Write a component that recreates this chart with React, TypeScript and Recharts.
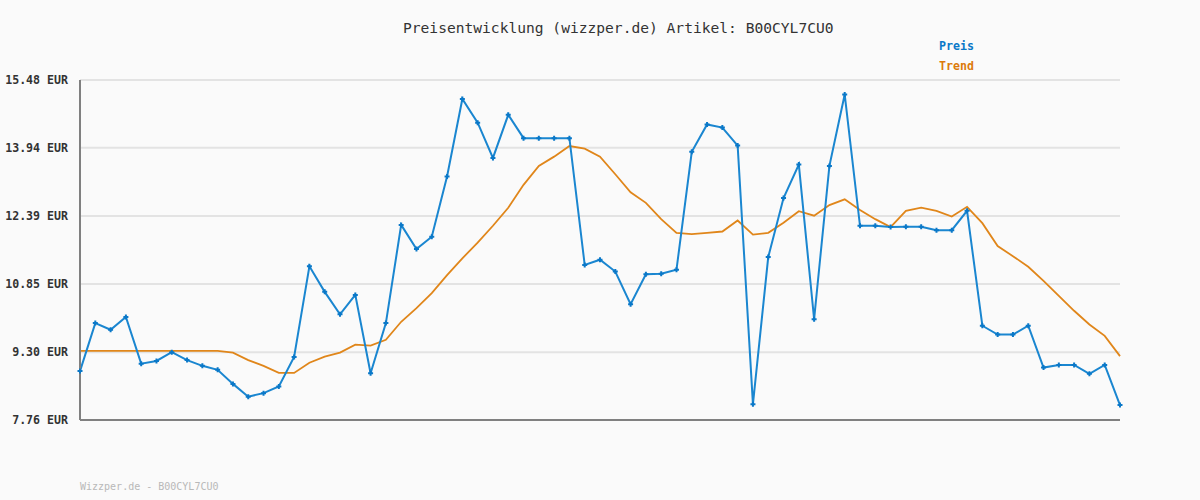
import { CartesianGrid, Line, LineChart, XAxis, YAxis } from "recharts";

const preis = [
  8.87, 9.96, 9.81, 10.1, 9.04, 9.1, 9.3, 9.12, 8.99, 8.9,
  8.58, 8.29, 8.37, 8.52, 9.19, 11.25, 10.67, 10.16, 10.6, 8.82,
  9.96, 12.19, 11.64, 11.92, 13.29, 15.05, 14.51, 13.71, 14.69, 14.16,
  14.16, 14.16, 14.16, 11.28, 11.4, 11.13, 10.39, 11.07, 11.08, 11.17,
  13.85, 14.47, 14.4, 13.99, 8.12, 11.46, 12.8, 13.56, 10.05, 13.53,
  15.15, 12.17, 12.17, 12.14, 12.15, 12.15, 12.07, 12.07, 12.51, 9.9,
  9.7, 9.7, 9.9, 8.95, 9.01, 9.01, 8.81, 9.01, 8.1,
];

const trend = [
  9.33, 9.33, 9.33, 9.33, 9.33, 9.33, 9.33, 9.33, 9.33, 9.33,
  9.29, 9.12, 8.99, 8.83, 8.83, 9.06, 9.2, 9.29, 9.47, 9.45,
  9.58, 9.99, 10.3, 10.64, 11.05, 11.43, 11.79, 12.17, 12.58, 13.1,
  13.53, 13.74, 13.98, 13.92, 13.74, 13.34, 12.93, 12.69, 12.32, 12.01,
  11.98, 12.01, 12.04, 12.29, 11.97, 12.01, 12.24, 12.5, 12.4, 12.64,
  12.77, 12.53, 12.32, 12.14, 12.51, 12.58, 12.51, 12.38, 12.6, 12.23,
  11.71, 11.48, 11.24, 10.92, 10.58, 10.24, 9.93, 9.67, 9.21,
];

const yTicks = [7.76, 9.3, 10.85, 12.39, 13.94, 15.48];

const data = preis.map((p, i) => ({ i, preis: p, trend: trend[i] }));

const mono = "'DejaVu Sans Mono', 'Liberation Mono', monospace";

function Cross(props: any) {
  const { cx, cy } = props;
  if (cx == null || cy == null) return null;
  return (
    <path
      d={`M${cx - 2.5},${cy}L${cx + 2.5},${cy}M${cx},${cy - 2.5}L${cx},${cy + 2.5}`}
      stroke="#0a78c8"
      strokeWidth={2}
    />
  );
}

export default function App() {
  return (
    <div
      style={{
        position: "absolute",
        left: 0,
        top: 0,
        width: 1200,
        height: 500,
        background: "#fafafa",
        fontFamily: mono,
      }}
    >
      <div style={{ position: "absolute", left: 403, top: 20.6, fontSize: 14.6, lineHeight: 1, color: "#333", whiteSpace: "pre" }}>
        Preisentwicklung (wizzper.de) Artikel: B00CYL7CU0
      </div>
      <div style={{ position: "absolute", left: 939, top: 41, fontSize: 11.6, lineHeight: 1, fontWeight: "bold", color: "#0a78c8" }}>
        Preis
      </div>
      <div style={{ position: "absolute", left: 939, top: 61, fontSize: 11.6, lineHeight: 1, fontWeight: "bold", color: "#dc7a0a" }}>
        Trend
      </div>
      <div style={{ position: "absolute", left: 80, top: 482, fontSize: 10, lineHeight: 1, color: "#b8b8b8", whiteSpace: "pre" }}>
        Wizzper.de - B00CYL7CU0
      </div>
      <LineChart width={1200} height={500} data={data} margin={{ top: 80, right: 80, bottom: 60, left: 0 }}>
        <CartesianGrid vertical={false} stroke="#e3e3e3" strokeWidth={2} />
        <XAxis
          dataKey="i"
          type="number"
          domain={[0, preis.length - 1]}
          tick={false}
          tickLine={false}
          height={20}
          stroke="#808080"
          strokeWidth={2}
        />
        <YAxis
          width={80}
          domain={[7.76, 15.48]}
          ticks={yTicks}
          interval={0}
          tickLine={false}
          stroke="#808080"
          strokeWidth={2}
          tickFormatter={(v) => `${Number(v).toFixed(2)} EUR`}
          tick={{ fill: "#333", fontSize: 11.6, fontWeight: "bold", fontFamily: mono }}
          tickMargin={6}
        />
        <Line
          type="linear"
          dataKey="trend"
          stroke="#e0861a"
          strokeWidth={1.8}
          dot={false}
          isAnimationActive={false}
        />
        <Line
          type="linear"
          dataKey="preis"
          stroke="#1a86d0"
          strokeWidth={2}
          dot={<Cross />}
          isAnimationActive={false}
        />
      </LineChart>
    </div>
  );
}
